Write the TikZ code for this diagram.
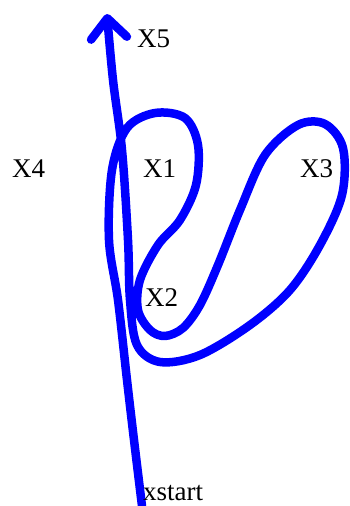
\documentclass[tikz,border=0pt]{standalone}
\usepackage{fontspec}
\setmainfont{Liberation Serif}
\usetikzlibrary{arrows.meta}
\begin{document}
\begin{tikzpicture}[x=1pt,y=-1pt,
  curve/.style={draw=blue, line width=8.5pt, line cap=round, line join=round,
    -{Straight Barb[length=20pt,width=36pt,round]}},
  lbl/.style={anchor=base west, inner sep=0pt, font=\fontsize{27}{27}\selectfont}]
\useasboundingbox (0,0) rectangle (349,506);
\coordinate (start) at (142,506);
\coordinate (tip) at (107,14);
\draw[curve] plot[smooth, tension=0.55] coordinates {
 (start) (134,440) (127,380) (118,300) (109,240) (112,170) (127,128) (155,113)
 (185,118) (198,145) (196,185) (180,220) (158,245) (140,280) (138,310)
 (150,330) (165,336) (183,328) (200,305) (218,265) (240,210) (265,155)
 (298,125) (325,124) (343,148) (342,195) (320,245) (290,290) (250,325)
 (200,355) (160,362) (137,345) (130,300) (128,240) (122,150) (113,80) (tip)};
\node[lbl] (x5) at (137,47) {X5};
\node[lbl] (x4) at (12,177) {X4};
\node[lbl] (x1) at (143,177) {X1};
\node[lbl] (x3) at (300,177) {X3};
\node[lbl] (x2) at (145,306) {X2};
\node[lbl] (xs) at (143,500) {xstart};
\end{tikzpicture}
\end{document}
